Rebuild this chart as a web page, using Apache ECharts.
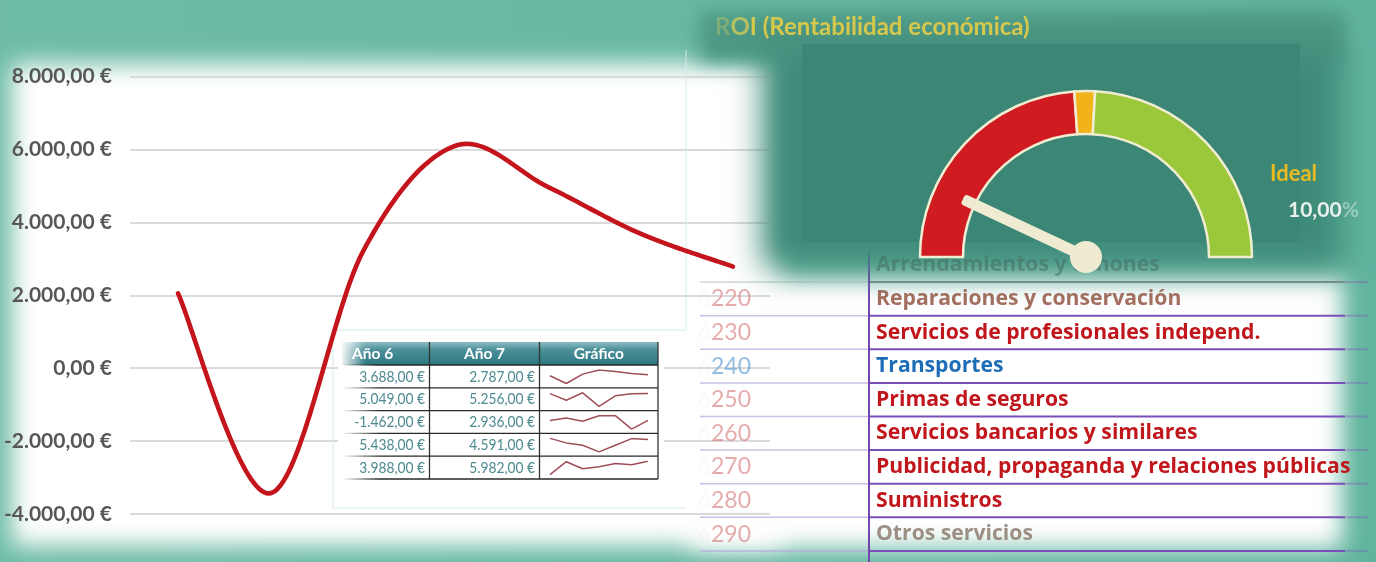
<!DOCTYPE html>
<html><head><meta charset="utf-8">
<script src="https://cdn.jsdelivr.net/npm/echarts@6/dist/echarts.min.js"></script>
<style>html,body{margin:0;padding:0;background:#6dbba5;}#c{width:1376px;height:562px;}</style>
</head><body><div id="c"></div>
<script>
// ---------------- data ----------------
const years = ['Año 1', 'Año 2', 'Año 3', 'Año 4', 'Año 5', 'Año 6', 'Año 7'];
const yMin = -4000, yMax = 8000, yInterval = 2000;
const year6 = [3688, 5049, -1462, 5438, 3988];
const year7 = [2787, 5256, 2936, 4591, 5982];
const earlyYears = [            // Años 1-5, one list per table row
  [2050, -3430, 3200, 6100, 4970],
  [5150, 1250, 5650, -2350, 3850],
  [2900, 4100, 2450, 5250, 5300],
  [5600, 1800, -200, -5800, -200],
  [-1800, 5700, 1600, 2800, 4600]
];
const tableHeaders = ['Año 6', 'Año 7', 'Gráfico'];
const accountCodes = ['6210', '6220', '6230', '6240', '6250', '6260', '6270', '6280', '6290'];
const accountNames = ['Arrendamientos y cánones', 'Reparaciones y conservación', 'Servicios de profesionales independ.',
  'Transportes', 'Primas de seguros', 'Servicios bancarios y similares',
  'Publicidad, propaganda y relaciones públicas', 'Suministros', 'Otros servicios'];
const gaugeMin = 0, gaugeMax = 20;
const gaugeBands = [9.55, 0.8, 9.65];   // rojo, ámbar, verde
const roiValue = 2.8;
const idealLabel = 'Ideal';
const idealValue = '10,00%';
const titleText = 'ROI (Rentabilidad económica)';

// ---------------- helpers ----------------
function fmtEur(v) {
  const neg = v < 0; v = Math.abs(Math.round(v));
  const s = String(v).replace(/\B(?=(\d{3})+(?!\d))/g, '.');
  return (neg ? '-' : '') + s + ',00 €';
}
const rows = earlyYears.map((r, i) => r.concat([year6[i], year7[i]]));
const FONT = 'Lato, "Open Sans", sans-serif';
const FONT2 = '"Open Sans", Lato, sans-serif';

function soft(x, y, w, h, color, blur, z) {
  return { type: 'rect', silent: true, z: z,
    shape: { x: x - 4000, y: y, width: w, height: h },
    style: { fill: color, shadowColor: color, shadowBlur: blur, shadowOffsetX: 4000 } };
}
function line(x1, y1, x2, y2, stroke, lw, z, opacity) {
  return { type: 'line', silent: true, z: z, shape: { x1, y1, x2, y2 },
    style: { stroke: stroke, lineWidth: lw, opacity: opacity == null ? 1 : opacity } };
}
function txt(x, y, text, opt, z, sx) {
  return { type: 'text', silent: true, z: z, x: x, y: y, scaleX: sx || 1,
    style: Object.assign({ text: text, fontFamily: FONT, verticalAlign: 'middle' }, opt) };
}

// ---------------- graphics ----------------
const G = [];
G.push({ type: 'rect', silent: true, z: -30, shape: { x: 0, y: 0, width: 1376, height: 562 },
  style: { fill: { type: 'linear', x: 0, y: 0, x2: 1, y2: 0, colorStops: [
    { offset: 0, color: '#6ebca6' }, { offset: 1, color: '#60b49e' }] } } });
G.push(soft(12, 64, 770, 482, '#ffffff', 22, -20));
G.push(soft(690, 276, 652, 272, '#ffffff', 22, -20));
G.push(line(686, 50, 686, 330, '#d6ece8', 1, 1));
G.push(line(333, 330, 686, 330, '#d6ece8', 1, 1));
G.push(line(333, 330, 333, 508, '#d6ece8', 1, 1));
G.push(line(333, 508, 686, 508, '#d6ece8', 1, 1));

// small table
const tX0 = 342, tC1 = 429.5, tC2 = 539.5, tX1 = 658, hTop = 342, hBot = 365, rowH = 22.8;
G.push({ type: 'rect', silent: true, z: 10, shape: { x: 338, y: 336, width: 326, height: 148 }, style: { fill: '#ffffff' } });
G.push({ type: 'rect', silent: true, z: 11, shape: { x: tX0, y: hTop, width: tX1 - tX0, height: hBot - hTop },
  style: { fill: { type: 'linear', x: 0, y: 0, x2: 0, y2: 1, colorStops: [
    { offset: 0, color: '#8cbcc2' }, { offset: 0.35, color: '#4a8f98' }, { offset: 1, color: '#2c7882' }] } } });
G.push({ type: 'rect', silent: true, z: 12, shape: { x: tX0 - 2, y: hTop - 1, width: 26, height: hBot - hTop + 2 },
  style: { fill: { type: 'linear', x: 0, y: 0, x2: 1, y2: 0, colorStops: [
    { offset: 0, color: 'rgba(255,255,255,1)' }, { offset: 1, color: 'rgba(255,255,255,0)' }] } } });
G.push(txt(352, (hTop + hBot) / 2, tableHeaders[0], { fill: '#fff', fontSize: 15.5, fontWeight: 'bold', align: 'left' }, 13));
G.push(txt((tC1 + tC2) / 2, (hTop + hBot) / 2, tableHeaders[1], { fill: '#fff', fontSize: 15.5, fontWeight: 'bold', align: 'center' }, 13));
G.push(txt((tC2 + tX1) / 2, (hTop + hBot) / 2, tableHeaders[2], { fill: '#fff', fontSize: 15.5, fontWeight: 'bold', align: 'center' }, 13));
G.push(line(tC1, hTop, tC1, hBot + rowH * 5, '#333', 1.3, 13));
G.push(line(tC2, hTop, tC2, hBot + rowH * 5, '#333', 1.3, 13));
G.push(line(tX1, hTop, tX1, hBot + rowH * 5, '#333', 1.3, 13));
for (let i = 0; i <= 5; i++) {
  const y = hBot + rowH * i;
  G.push({ type: 'line', silent: true, z: 13, shape: { x1: 344, y1: y, x2: tX1, y2: y },
    style: { lineWidth: 1.3, stroke: { type: 'linear', x: 0, y: 0, x2: 1, y2: 0, colorStops: [
      { offset: 0, color: 'rgba(40,40,40,0)' }, { offset: 0.12, color: 'rgba(40,40,40,1)' }, { offset: 1, color: 'rgba(40,40,40,1)' }] } } });
}
for (let i = 0; i < 5; i++) {
  const yc = hBot + rowH * (i + 0.5);
  G.push(txt(425, yc, fmtEur(year6[i]), { fill: '#4d8a90', fontSize: 16, align: 'right' }, 13, 0.86));
  G.push(txt(535, yc, fmtEur(year7[i]), { fill: '#4d8a90', fontSize: 16, align: 'right' }, 13, 0.86));
}

// right-bottom accounts table
const rTop = 248.5, rH = 33.6;
const nameColors = ['#42685f', '#9a5e4e', '#c0161c', '#1c6db5', '#c0161c', '#c0161c', '#c0161c', '#c0161c', '#8e7d70'];
const nameOpacity = [0.5, 0.9, 1, 1, 1, 1, 1, 1, 0.85];
for (let i = 0; i < accountNames.length; i++) {
  const yc = rTop + rH * (i + 0.5);
  G.push(txt(876, yc, accountNames[i], { fill: nameColors[i], opacity: nameOpacity[i], fontSize: 21.5, fontWeight: 'bold', align: 'left', fontFamily: FONT2 }, i === 0 ? 24 : 15, 0.985));
  if (i > 0) {
    const blue = accountNames[i] === 'Transportes';
    G.push({ type: 'text', silent: true, z: 15, x: 751, y: yc, style: {
      text: '{a|' + accountCodes[i].slice(0, 1) + '}{b|' + accountCodes[i].slice(1) + '}',
      align: 'right', verticalAlign: 'middle', fontFamily: FONT,
      rich: { a: { fontSize: 23, fill: 'rgba(230,160,160,0.07)', fontFamily: FONT },
              b: { fontSize: 23, fill: blue ? 'rgba(110,165,215,0.75)' : 'rgba(214,120,120,0.62)', fontFamily: FONT } } } });
  }
  const y = rTop + rH * (i + 1);
  G.push(line(869, y, 1345, y, i === 0 ? '#7d8f8a' : '#7b4fba', 2, 15));
  G.push(line(1345, y, 1368, y, '#7b4fba', 2, 15, 0.35));
  G.push(line(700, y, 869, y, i === 0 ? '#b8c4c0' : '#b8a2dc', 1.5, 15, 0.7));
}
G.push(line(869, 250, 869, 562, '#7048b0', 2, 15));

// gauge panel
G.push(soft(700, 12, 645, 50, '#4c9884', 18, 19));
G.push(soft(762, 44, 580, 224, '#3e8b79', 30, 20));
G.push({ type: 'rect', silent: true, z: 21, shape: { x: 802, y: 44, width: 498, height: 198 }, style: { fill: '#3b8674' } });
G.push({ type: 'text', silent: true, z: 25, x: 715, y: 27, style: {
  text: '{a|' + titleText.slice(0, 1) + '}{c|' + titleText.slice(1, 2) + '}{b|' + titleText.slice(2) + '}', verticalAlign: 'middle', fontFamily: FONT,
  rich: { a: { fontSize: 24, fontWeight: 'bold', fill: 'rgba(214,205,90,0.35)', fontFamily: FONT },
          c: { fontSize: 24, fontWeight: 'bold', fill: 'rgba(214,205,90,0.75)', fontFamily: FONT },
          b: { fontSize: 24, fontWeight: 'bold', fill: '#d6c84c', fontFamily: FONT } } } });
G.push(txt(1270, 174, idealLabel, { fill: '#e9bb22', fontSize: 22, fontWeight: 'bold', align: 'left' }, 25));
G.push({ type: 'text', silent: true, z: 25, x: 1288, y: 210, style: {
  text: '{a|' + idealValue.slice(0, 5) + '}{b|' + idealValue.slice(5) + '}', verticalAlign: 'middle', fontFamily: FONT,
  rich: { a: { fontSize: 21, fontWeight: 'bold', fill: '#e8f1ea', fontFamily: FONT },
          b: { fontSize: 21, fontWeight: 'bold', fill: 'rgba(232,241,234,0.45)', fontFamily: FONT } } } });

// ---------------- chart ----------------
const grids = [
  { left: 130, top: 76.5, width: 640, height: 437.5 },
  { left: 178, top: 76.5, width: 555, height: 437.5 }
];
const xAxes = [
  { gridIndex: 0, type: 'category', data: years, show: false },
  { gridIndex: 1, type: 'category', data: years, boundaryGap: false, show: false }
];
const yAxes = [
  { gridIndex: 0, type: 'value', min: yMin, max: yMax, interval: yInterval,
    axisLine: { show: false }, axisTick: { show: false },
    axisLabel: { formatter: fmtEur, margin: 18, color: '#575757', fontSize: 21, fontWeight: 'bold', fontFamily: FONT },
    splitLine: { lineStyle: { color: '#dadada', width: 2 } } },
  { gridIndex: 1, type: 'value', min: yMin, max: yMax, interval: yInterval, show: false, splitLine: { show: false } }
];
// main curve: Catmull-Rom smoothing (like the spreadsheet's smoothed line) through the library's coordinate system
const mainData = rows[0].map((v, i) => [i, v]);
function renderSmooth(params, api) {
  if (params.dataIndex !== 0) return null;
  const P = mainData.map(d => api.coord(d));
  const pts = [];
  const n = P.length;
  for (let i = 0; i < n - 1; i++) {
    const p0 = P[Math.max(i - 1, 0)], p1 = P[i], p2 = P[i + 1], p3 = P[Math.min(i + 2, n - 1)];
    const c1 = [p1[0] + (p2[0] - p0[0]) / 6, p1[1] + (p2[1] - p0[1]) / 6];
    const c2 = [p2[0] - (p3[0] - p1[0]) / 6, p2[1] - (p3[1] - p1[1]) / 6];
    for (let k = 0; k <= 40; k++) {
      if (i > 0 && k === 0) continue;
      const t = k / 40, u = 1 - t;
      pts.push([
        u * u * u * p1[0] + 3 * u * u * t * c1[0] + 3 * u * t * t * c2[0] + t * t * t * p2[0],
        u * u * u * p1[1] + 3 * u * u * t * c1[1] + 3 * u * t * t * c2[1] + t * t * t * p2[1]
      ]);
    }
  }
  return { type: 'polyline', shape: { points: pts },
    style: { fill: null, stroke: '#c4151c', lineWidth: 4.6, lineCap: 'round', lineJoin: 'round' } };
}
const series = [
  { type: 'custom', xAxisIndex: 1, yAxisIndex: 1, data: mainData, renderItem: renderSmooth, clip: false, silent: true, z: 3 }
];
const sparkTops = [370, 392.8, 415.6, 438.4, 461.2];
rows.forEach((r, i) => {
  grids.push({ left: 550, width: 98, top: sparkTops[i], height: 13.5 });
  xAxes.push({ gridIndex: i + 2, type: 'category', data: years, boundaryGap: false, show: false });
  yAxes.push({ gridIndex: i + 2, type: 'value', min: 'dataMin', max: 'dataMax', show: false, splitLine: { show: false } });
  series.push({ type: 'line', xAxisIndex: i + 2, yAxisIndex: i + 2, data: r, showSymbol: false, symbol: 'none',
    lineStyle: { color: '#a04f58', width: 1.5 }, z: 14 });
});
series.push({ type: 'pie', center: [1086, 257], radius: [123, 166], startAngle: 180, clockwise: true, silent: true, z: 30,
  label: { show: false }, labelLine: { show: false },
  itemStyle: { borderColor: '#f1edd2', borderWidth: 2.5 },
  data: [
    { value: gaugeBands[0], itemStyle: { color: '#d01c21' } },
    { value: gaugeBands[1], itemStyle: { color: '#f2b21a' } },
    { value: gaugeBands[2], itemStyle: { color: '#9bc83a' } },
    { value: gaugeBands[0] + gaugeBands[1] + gaugeBands[2], itemStyle: { color: 'rgba(0,0,0,0)', borderWidth: 0 } }
  ] });
series.push({ type: 'gauge', center: [1086, 257], radius: 166, startAngle: 180, endAngle: 0, min: gaugeMin, max: gaugeMax, z: 32,
  axisLine: { show: false }, splitLine: { show: false }, axisTick: { show: false }, axisLabel: { show: false },
  title: { show: false }, detail: { show: false }, silent: true,
  pointer: { icon: 'roundRect', length: 136, width: 11, itemStyle: { color: '#efebd2' } },
  anchor: { show: true, showAbove: true, size: 32, itemStyle: { color: '#efebd2' } },
  data: [{ value: roiValue }] });

const chart = echarts.init(document.getElementById('c'));
chart.setOption({
  animation: false,
  grid: grids, xAxis: xAxes, yAxis: yAxes, series: series,
  graphic: { elements: G }
});
</script></body></html>
